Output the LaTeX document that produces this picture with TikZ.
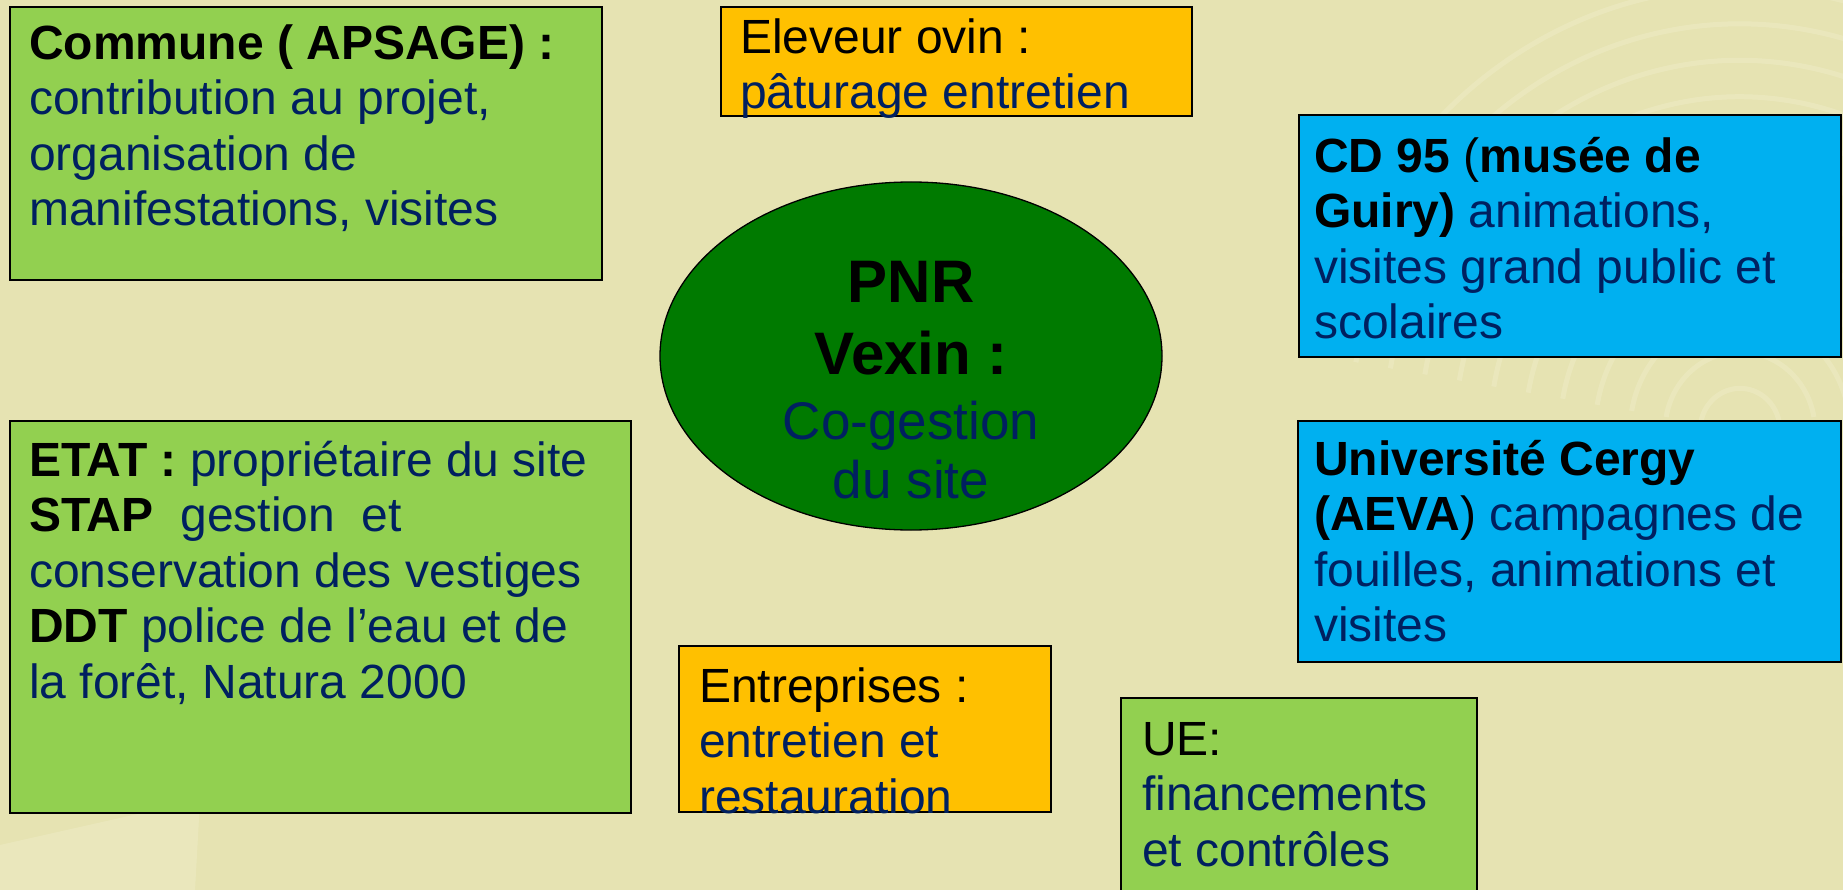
\documentclass[tikz,border=0pt]{standalone}
\usepackage{fontspec}
\setmainfont{Liberation Sans}
\usetikzlibrary{shapes.geometric,calc}
\definecolor{bg}{HTML}{E6E3B2}
\definecolor{bglite}{HTML}{EDEBC4}
\definecolor{lgreen}{HTML}{92D050}
\definecolor{orng}{HTML}{FFC000}
\definecolor{lblue}{HTML}{00B0F0}
\definecolor{pnrgreen}{HTML}{007A00}
\definecolor{navy}{HTML}{002060}
\newcommand\blk[1]{\textcolor{black}{\textbf{#1}}}
\newcommand\rblk[1]{\textcolor{black}{#1}}
\begin{document}
\begin{tikzpicture}[x=1pt,y=-1pt,
  box/.style={draw=black, line width=1.6pt, rectangle, inner sep=0pt, anchor=north west},
  txt/.style={inner sep=0pt, anchor=north west, align=left, text=navy, font=\fontsize{48}{55.5}\selectfont},
  ridge/.style={draw=bglite, line width=5pt, opacity=0.6}]
\fill[bg] (0,0) rectangle (1843,890);
\useasboundingbox (0,0) rectangle (1843,890);
\clip (0,0) rectangle (1843,890);
% faint fingerprint texture (background, top right)
\foreach \r in {40,75,110,145,180,215,250,285,320,355,390,425}{
  \draw[ridge] (1740,430) ++(190:\r) arc[start angle=190, end angle=350, x radius=\r, y radius=1.05*\r];
}
\fill[bglite, opacity=0.6] (0,890) -- (0,845) -- (200,800) -- (195,890) -- cycle;
% boxes
\node[box, fill=lgreen, minimum width=592, minimum height=273] (commune) at (9,6) {};
\node[box, fill=orng, minimum width=471, minimum height=109] (eleveur) at (720,6) {};
\node[box, fill=lblue, minimum width=542, minimum height=242] (cd) at (1298,114) {};
\node[box, fill=lgreen, minimum width=621, minimum height=392] (etat) at (9,420) {};
\node[box, fill=lblue, minimum width=543, minimum height=241] (univ) at (1297,420) {};
\node[box, fill=orng, minimum width=372, minimum height=166] (entr) at (678,645) {};
\node[box, fill=lgreen, minimum width=356, minimum height=220] (ue) at (1120,697) {};
\node[ellipse, draw=black, line width=1.3pt, fill=pnrgreen, minimum width=502, minimum height=348, inner sep=0pt] (pnr) at (911,356) {};
% texts
\node[txt] (communeT) at (29,20) {\strut\blk{Commune ( APSAGE) :}\\contribution au projet,\\organisation de\\manifestations, visites};
\node[txt] (eleveurT) at (740,14) {\strut\rblk{Eleveur ovin :}\\p\^aturage entretien};
\node[txt] (cdT) at (1314,133) {\strut\blk{CD 95} \rblk{(}\blk{mus\'ee de}\\\blk{Guiry)} animations,\\visites grand public et\\scolaires};
\node[txt] (etatT) at (29,437) {\strut\blk{ETAT :} propri\'etaire du site\\\blk{STAP}\ \ gestion\ \ et\\conservation des vestiges\\\blk{DDT} police de l’eau et de\\la for\^et, Natura 2000};
\node[txt] (univT) at (1314,436) {\strut\blk{Universit\'e Cergy}\\\blk{(AEVA}\rblk{)} campagnes de\\fouilles, animations et\\visites};
\node[txt] (entrT) at (699,663) {\strut\rblk{Entreprises :}\\entretien et\\restauration};
\node[txt] (ueT) at (1142,716) {\strut\rblk{UE:}\\financements\\et contr\^oles};
\node[inner sep=0pt, anchor=north, align=center, font=\fontsize{60}{72}\selectfont\bfseries] (pnrT) at (911,252) {\strut PNR\\Vexin :};
\node[inner sep=0pt, anchor=north, align=center, text=navy, font=\fontsize{53}{59}\selectfont] (pnrB) at (911,398) {\strut Co-gestion\\du site};
\end{tikzpicture}
\end{document}
